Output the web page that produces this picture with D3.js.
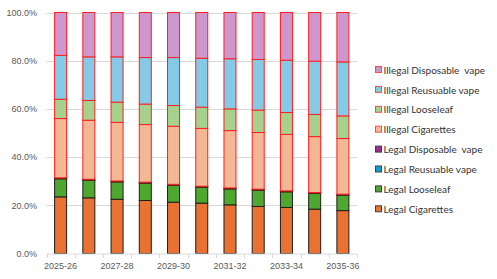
<!DOCTYPE html>
<html>
<head>
<meta charset="utf-8">
<script src="https://cdn.jsdelivr.net/npm/d3@7"></script>
<style>
  html, body { margin: 0; padding: 0; background: #ffffff; }
  svg { display: block; }
</style>
</head>
<body>
<svg id="chart" width="497" height="279"></svg>
<script>
const categories = ["2025-26","2026-27","2027-28","2028-29","2029-30","2030-31","2031-32","2032-33","2033-34","2034-35","2035-36"];
const legalCigarettes      = [23.5, 23.1, 22.5, 22.0, 21.3, 20.9, 20.2, 19.5, 19.1, 18.4, 17.8];
const legalLooseleaf       = [7.5, 7.3, 7.2, 7.2, 7.0, 6.6, 6.6, 6.8, 6.5, 6.5, 6.4];
const legalReusableVape    = [0.1, 0.1, 0.1, 0.1, 0.1, 0.1, 0.1, 0.1, 0.1, 0.1, 0.1];
const legalDisposableVape  = [0.3, 0.3, 0.3, 0.3, 0.3, 0.3, 0.3, 0.3, 0.3, 0.3, 0.3];
const illegalCigarettes    = [24.6, 24.5, 24.3, 23.9, 24.1, 24.0, 23.8, 23.5, 23.4, 23.2, 23.1];
const illegalLooseleaf     = [8.0, 8.2, 8.4, 8.5, 8.6, 8.8, 9.0, 9.3, 9.1, 9.2, 9.4];
const illegalReusableVape  = [18.2, 18.1, 18.8, 19.3, 19.9, 20.3, 20.8, 21.0, 21.7, 22.1, 22.4];
const illegalDisposableVape= [17.8, 18.4, 18.4, 18.7, 18.7, 19.0, 19.2, 19.5, 19.8, 20.2, 20.5];
const yTicks = [0, 20, 40, 60, 80, 100];
const xLabelCategories = ["2025-26","2027-28","2029-30","2031-32","2033-34","2035-36"];

const series = [
  {name: "Legal Cigarettes", values: legalCigarettes, color: "#e97132", illegal: false},
  {name: "Legal Looseleaf", values: legalLooseleaf, color: "#4ea72e", illegal: false},
  {name: "Legal Reusuable vape", values: legalReusableVape, color: "#0f9ed5", illegal: false},
  {name: "Legal Disposable  vape", values: legalDisposableVape, color: "#a02b93", illegal: false},
  {name: "Illegal Cigarettes", values: illegalCigarettes, color: "#f2b794", illegal: true},
  {name: "Illegal Looseleaf", values: illegalLooseleaf, color: "#a6d08d", illegal: true},
  {name: "Illegal Reusuable vape", values: illegalReusableVape, color: "#84c9e5", illegal: true},
  {name: "Illegal Disposable  vape", values: illegalDisposableVape, color: "#cd96cc", illegal: true}
];

const svg = d3.select("#chart");
const plot = {left: 46.5, right: 357, top: 12.5, bottom: 253.5};

const x = d3.scaleBand().domain(categories).range([plot.left, plot.right])
  .paddingInner(0.575).paddingOuter(0.2875);
const y = d3.scaleLinear().domain([0, 100]).range([plot.bottom, plot.top]);

// subtle fine-dot patterns for the illegal series
const defs = svg.append("defs");
series.forEach((s, i) => {
  if (!s.illegal) return;
  const p = defs.append("pattern").attr("id", "pat" + i)
    .attr("patternUnits", "userSpaceOnUse").attr("width", 2).attr("height", 2);
  p.append("rect").attr("width", 2).attr("height", 2).attr("fill", s.color);
  p.append("rect").attr("x", 0).attr("y", 0).attr("width", 1).attr("height", 1)
    .attr("fill", d3.color(s.color).brighter(0.08).formatHex());
  p.append("rect").attr("x", 1).attr("y", 1).attr("width", 1).attr("height", 1)
    .attr("fill", d3.color(s.color).darker(0.05).formatHex());
});

// gridlines
svg.append("g").selectAll("line").data(yTicks.filter(d => d > 0)).join("line")
  .attr("x1", plot.left).attr("x2", plot.right)
  .attr("y1", d => Math.round(y(d)) + 0.5).attr("y2", d => Math.round(y(d)) + 0.5)
  .attr("stroke", "#d9d9d9").attr("stroke-width", 1);

// y labels
svg.append("g").selectAll("text").data(yTicks).join("text")
  .attr("x", 37).attr("y", d => y(d) + 3.3)
  .attr("text-anchor", "end")
  .attr("font-family", "Liberation Sans, Arial, sans-serif")
  .attr("font-size", "9px").attr("fill", "#595959")
  .text(d => d.toFixed(1) + "%");

// stacked bars
const table = categories.map((c, i) => {
  const row = {cat: c};
  series.forEach(s => row[s.name] = s.values[i]);
  return row;
});
const stack = d3.stack().keys(series.map(s => s.name));
const stacked = stack(table);

stacked.forEach((layer, i) => {
  const s = series[i];
  svg.append("g").selectAll("rect").data(layer).join("rect")
    .attr("x", d => x(d.data.cat))
    .attr("width", x.bandwidth())
    .attr("y", d => y(d[1]))
    .attr("height", d => Math.max(0, y(d[0]) - y(d[1])))
    .attr("fill", s.illegal ? "url(#pat" + i + ")" : s.color)
    .attr("stroke", s.illegal ? "#ff1f1f" : (i >= 2 ? "#5a1a1a" : "#1e1e1e"))
    .attr("stroke-width", 1);
});

// x axis
const axisG = svg.append("g").attr("transform", `translate(0,${plot.bottom + 0.5})`);
axisG.append("line").attr("x1", plot.left).attr("x2", plot.right)
  .attr("y1", 0).attr("y2", 0).attr("stroke", "#d9d9d9");
const step = x.step();
const boundaries = d3.range(categories.length + 1).map(i => plot.left + i * step);
axisG.selectAll("line.tick").data(boundaries).join("line").attr("class", "tick")
  .attr("x1", d => Math.round(d) + 0.5).attr("x2", d => Math.round(d) + 0.5)
  .attr("y1", 0).attr("y2", 4).attr("stroke", "#d9d9d9");
axisG.selectAll("text").data(xLabelCategories).join("text")
  .attr("x", d => x(d) + x.bandwidth() / 2).attr("y", 14.5)
  .attr("text-anchor", "middle")
  .attr("font-family", "Liberation Sans, Arial, sans-serif")
  .attr("font-size", "9px").attr("fill", "#595959")
  .text(d => d);

// legend
const legendOrder = series.slice().reverse();
const lg = svg.append("g");
legendOrder.forEach((s, k) => {
  const cy = 70 + k * 19.9;
  const idx = series.indexOf(s);
  lg.append("rect").attr("x", 375.5).attr("y", cy - 3.5).attr("width", 6).attr("height", 6)
    .attr("fill", s.illegal ? "url(#pat" + idx + ")" : s.color)
    .attr("stroke", s.illegal ? "#ff4a4a" : "#404040").attr("stroke-width", 1);
  lg.append("text").attr("x", 383.5).attr("y", cy + 3.6)
    .attr("font-family", "Lato, Carlito, sans-serif")
    .attr("font-size", "10px").attr("fill", "#333333")
    .attr("xml:space", "preserve").style("white-space", "pre")
    .text(s.name);
});
</script>
</body>
</html>
